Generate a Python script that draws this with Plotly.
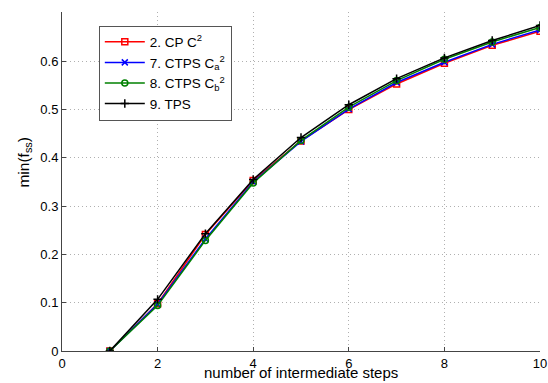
import plotly.graph_objects as go

steps = [1, 2, 3, 4, 5, 6, 7, 8, 9, 10]
cp_c2 = [0.0, 0.098, 0.241, 0.353, 0.435, 0.500, 0.553, 0.596, 0.633, 0.662]
ctps_a = [0.0, 0.097, 0.232, 0.350, 0.434, 0.501, 0.556, 0.598, 0.635, 0.665]
ctps_b = [0.0, 0.094, 0.229, 0.348, 0.436, 0.505, 0.560, 0.604, 0.640, 0.670]
tps = [0.0, 0.107, 0.243, 0.355, 0.442, 0.510, 0.564, 0.607, 0.643, 0.674]

names = ["2. CP C<sup>2</sup>", "7. CTPS C<sub>a</sub><sup>2</sup>",
         "8. CTPS C<sub>b</sub><sup>2</sup>", "9. TPS"]
colors = ["#ff0000", "#0000ff", "#008000", "#000000"]
symbols = ["square-open", "x-thin-open", "circle-open", "cross-thin-open"]
series = [cp_c2, ctps_a, ctps_b, tps]

fig = go.Figure()
for n, c, s, y in zip(names, colors, symbols, series):
    fig.add_trace(go.Scatter(
        x=steps, y=y, name=n, mode="lines+markers",
        line=dict(color=c, width=1.5),
        marker=dict(symbol=s, size=6, color=c, line=dict(color=c, width=1.5)),
    ))

axis_common = dict(
    showgrid=True, gridcolor="#b0b0b0", griddash="1px,3px", gridwidth=1,
    showline=True, linecolor="#444444", linewidth=1, mirror=False,
    ticks="inside", ticklen=4, tickcolor="#444444",
    zeroline=False, automargin=False, ticklabeloverflow="allow",
    tickfont=dict(size=13),
)

fig.update_layout(
    width=548, height=383,
    margin=dict(l=62, r=8, t=12, b=32),
    paper_bgcolor="white", plot_bgcolor="white",
    font=dict(family="Liberation Sans, Arial, sans-serif", size=13, color="black"),
    showlegend=True,
    legend=dict(x=0.077, y=0.96, xanchor="left", yanchor="top",
                bordercolor="#555555", borderwidth=1, bgcolor="white",
                font=dict(size=13.5), tracegroupgap=0, itemwidth=40),
    xaxis=dict(range=[0, 10], tickvals=[0, 2, 4, 6, 8, 10],
               ticklabelstandoff=0, **axis_common),
    yaxis=dict(range=[0, 0.702], tickvals=[0, 0.1, 0.2, 0.3, 0.4, 0.5, 0.6],
               ticktext=["0", "0.1", "0.2", "0.3", "0.4", "0.5", "0.6"],
               **axis_common),
    annotations=[
        dict(text="number of intermediate steps", xref="paper", yref="paper",
             x=0.5, y=-0.063, xanchor="center", yanchor="middle",
             showarrow=False, font=dict(size=15)),
        dict(text="min(f<sub>ss</sub>)", xref="paper", yref="paper",
             x=-0.078, y=0.555, xanchor="center", yanchor="middle",
             textangle=-90, showarrow=False, font=dict(size=15.5)),
    ],
)

fig.write_html("out.html", config={"displayModeBar": False},
               post_script="document.body.style.margin='0';document.body.style.overflow='hidden';")
